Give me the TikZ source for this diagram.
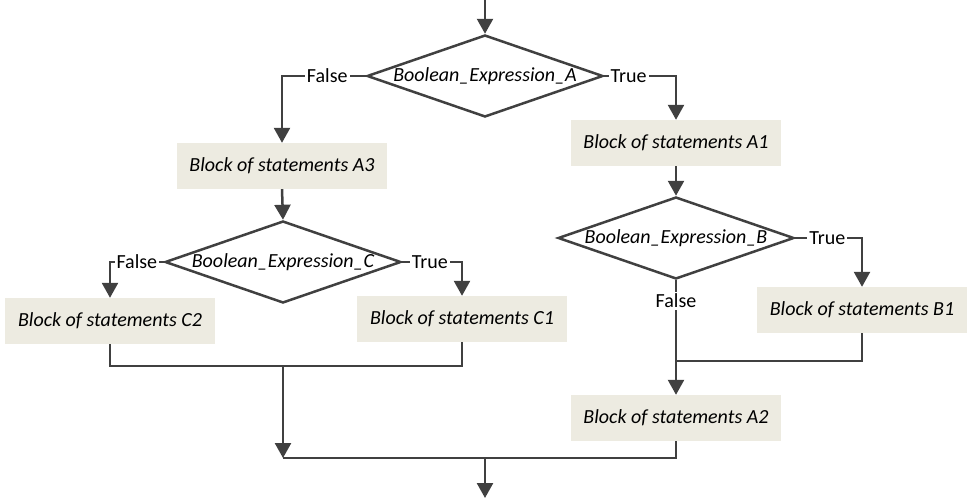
\documentclass[tikz,border=0pt]{standalone}
\usepackage{fontspec}
\setmainfont{Carlito}
\usetikzlibrary{shapes.geometric, arrows.meta}
\definecolor{blockfill}{HTML}{EDEBE1}
\definecolor{linegray}{HTML}{404040}

\begin{document}
\begin{tikzpicture}[x=1pt, y=-1pt,
    block/.style={rectangle, fill=blockfill, minimum width=210pt, minimum height=46pt, inner sep=0pt, font=\fontsize{20}{24}\selectfont\itshape},
    decision/.style={diamond, draw=linegray, line width=2.5pt, aspect=2.88, inner sep=0pt, minimum width=236pt, minimum height=82pt, font=\fontsize{20}{24}\selectfont\itshape},
    arrow/.style={-{Triangle[length=15pt, width=16pt]}, draw=linegray, line width=2.5pt},
    conn/.style={draw=linegray, line width=2.5pt},
    lbl/.style={fill=white, inner sep=2pt, font=\fontsize{20}{24}\selectfont}
]
    \useasboundingbox (0,0) rectangle (968,498);

    % Condition A
    \coordinate (in) at (485,0);
    \node[decision] (dA) at (485,76) {Boolean\_Expression\_A};
    \draw[arrow] (in) -- (dA.north);

    % True branch of A
    \node[block] (A1) at (676,143) {Block of statements A1};
    \node[decision] (dB) at (676,238) {Boolean\_Expression\_B};
    \node[block] (B1) at (862,310) {Block of statements B1};
    \node[block] (A2) at (676,418) {Block of statements A2};

    \draw[arrow] (dA.east) -| node[lbl, pos=0.17] {True} (A1.north);
    \draw[arrow] (A1.south) -- (dB.north);
    \draw[arrow] (dB.east) -| node[lbl, pos=0.24] {True} (B1.north);
    \draw[arrow] (dB.south) -- node[lbl, pos=0.18] {False} (A2.north);
    \coordinate (mB) at (676,361);
    \draw[conn] (B1.south) |- (mB);

    % False branch of A
    \node[block] (A3) at (282,166) {Block of statements A3};
    \node[decision] (dC) at (283,262) {Boolean\_Expression\_C};
    \node[block] (C2) at (110,321) {Block of statements C2};
    \node[block] (C1) at (462,319) {Block of statements C1};

    \draw[arrow] (dA.west) -| node[lbl, pos=0.23] {False} (A3.north);
    \draw[arrow] (A3.south) -- (dC.north);
    \draw[arrow] (dC.west) -| node[lbl, pos=0.25] {False} (C2.north);
    \draw[arrow] (dC.east) -| node[lbl, pos=0.23] {True} (C1.north);

    % Merge
    \coordinate (mC) at (283,366);
    \coordinate (mEnd) at (283,458);
    \coordinate (outTop) at (485,458);
    \coordinate (out) at (485,498);
    \draw[conn] (C2.south) |- (mC) -| (C1.south);
    \draw[arrow] (mC) -- (mEnd);
    \draw[conn] (mEnd) -| (A2.south);
    \draw[arrow] (outTop) -- (out);
\end{tikzpicture}
\end{document}
